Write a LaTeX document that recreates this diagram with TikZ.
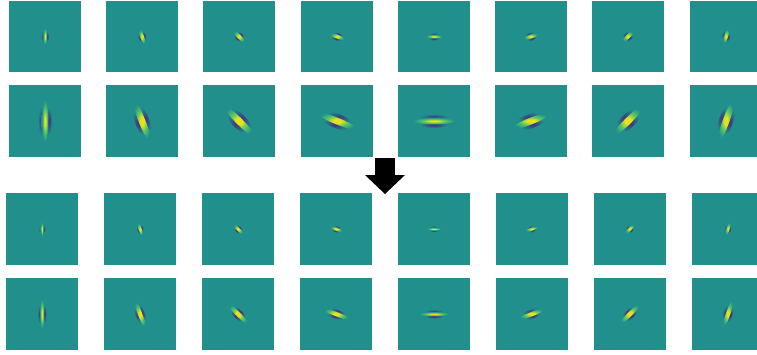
\documentclass[tikz,border=0pt]{standalone}
\usepackage{tikz}
\definecolor{panelteal}{HTML}{21908C}
\definecolor{coreyellow}{HTML}{E4E419}
\definecolor{coregreen}{HTML}{5EC962}
\definecolor{flankblue}{HTML}{3E3A86}
\pgfdeclareradialshading{gaborcore}{\pgfpointorigin}{color(0bp)=(coreyellow); color(5bp)=(coreyellow); color(13bp)=(coregreen); color(25bp)=(panelteal); color(50bp)=(panelteal)}
\pgfdeclareradialshading{gaborflank}{\pgfpointorigin}{color(0bp)=(flankblue); color(4bp)=(flankblue); color(25bp)=(panelteal); color(50bp)=(panelteal)}
% #1 panel, #2 angle, #3 core half length, #4 flank half length, #5 half width
\newcommand{\gaborblob}[5]{%
  \begin{scope}[shift={(#1.center)}, rotate=#2]
    \shade[shading=gaborflank] (0, #5*1.1) ellipse [x radius=#4pt, y radius=#5pt];
    \shade[shading=gaborflank] (0,-#5*1.1) ellipse [x radius=#4pt, y radius=#5pt];
    \shade[shading=gaborcore]  (0,  0) ellipse [x radius=#3pt, y radius=#5pt];
  \end{scope}}

\begin{document}
\begin{tikzpicture}[
    x=1pt, y=-1pt,
    panel/.style={fill=panelteal, inner sep=0pt, outer sep=0pt, minimum size=#1},
    panel/.default=72pt
]
    \clip (0,0) rectangle (757,354);

    % --- Top pair of rows ---
    \foreach \i/\px/\ang in {1/45/90, 2/142/112, 3/239/135, 4/337/158,
                             5/434/180, 6/531/22, 7/628/45, 8/726/70} {
        \node[panel=71.5pt] (a\i) at (\px, 36.5) {};
        \node[panel=71.5pt] (b\i) at (\px, 121) {};
        \gaborblob{a\i}{\ang}{8}{5}{2}
        \gaborblob{b\i}{\ang}{21}{14}{3.4}
    }

    % --- Arrow between the pairs ---
    \node[fill=black, inner sep=0pt, minimum width=20pt, minimum height=18pt] (shaft) at (385, 166.5) {};
    \fill[black] (365,175) -- (405,175) -- (385,194) -- cycle;

    % --- Bottom pair of rows ---
    \foreach \i/\px/\ang in {1/42/90, 2/140/112, 3/238/135, 4/336/158,
                             5/434/180, 6/532/22, 7/630/45, 8/728/70} {
        \node[panel] (c\i) at (\px, 229) {};
        \node[panel] (d\i) at (\px, 314) {};
        \gaborblob{c\i}{\ang}{7}{4}{1.6}
        \gaborblob{d\i}{\ang}{15}{9}{2.2}
    }
\end{tikzpicture}
\end{document}
